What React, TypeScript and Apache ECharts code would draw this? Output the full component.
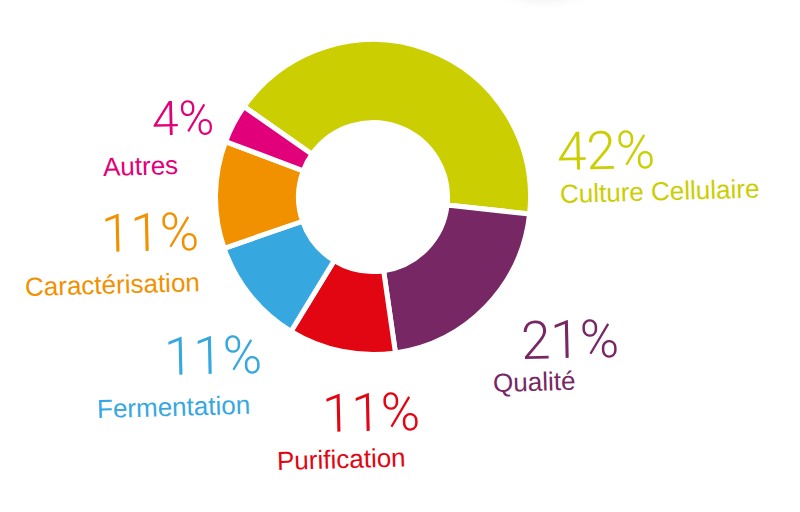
import React from 'react';
import * as echarts from 'echarts';

const categories = [
  'Culture Cellulaire',
  'Qualité',
  'Purification',
  'Fermentation',
  'Caractérisation',
  'Autres',
];
const shares = [42, 21, 11, 11, 11, 4];
const sliceColors = ['#cbce00', '#772864', '#e20613', '#37a8df', '#f29100', '#e2007a'];

// label placement: [left x of percent, centre y of percent, left x of name, centre y of name, percent size]
const labelSpots: [number, number, number, number, number][] = [
  [557, 152, 560, 194, 53],
  [521, 341, 493, 383, 53],
  [322, 414, 277, 461, 53],
  [164, 357, 97, 409, 53],
  [101, 234, 25, 287, 53],
  [152, 119, 103, 167, 48],
];

const FONT = '"Liberation Sans", Arial, sans-serif';
const THIN = 'Roboto, "Liberation Sans", sans-serif';

const buildLabels = (): any[] =>
  categories.flatMap((name, i) => {
    const [px, py, nx, ny, size] = labelSpots[i];
    const color = sliceColors[i];
    const tilt = (1.6 * Math.PI) / 180;
    return [
      {
        type: 'text',
        x: px,
        y: py,
        rotation: tilt * 0.8,
        style: {
          text: `${shares[i]}%`,
          fill: color,
          font: `300 ${size}px ${THIN}`,
          align: 'left',
          verticalAlign: 'middle',
        },
      },
      {
        type: 'text',
        x: nx,
        y: ny,
        rotation: tilt,
        style: {
          text: name,
          fill: color,
          font: `26px ${FONT}`,
          align: 'left',
          verticalAlign: 'middle',
        },
      },
    ];
  });

export default function App() {
  const ref = React.useRef<HTMLDivElement>(null);

  React.useEffect(() => {
    if (!ref.current) return;
    const chart = echarts.init(ref.current, undefined, { renderer: 'svg' });

    chart.setOption({
      animation: false,
      backgroundColor: '#ffffff',
      color: sliceColors,
      graphic: [
        {
          type: 'ellipse',
          shape: { cx: 545, cy: -4, rx: 52, ry: 15 },
          style: {
            fill: new echarts.graphic.RadialGradient(0.5, 0.5, 0.5, [
              { offset: 0, color: 'rgba(210,210,210,0.45)' },
              { offset: 1, color: 'rgba(255,255,255,0)' },
            ]),
          },
          z: -1,
        },
        ...buildLabels(),
      ],
      series: [
        {
          type: 'pie',
          center: [373, 197],
          radius: [74.5, 157.5],
          startAngle: 145,
          clockwise: true,
          silent: true,
          label: { show: false },
          labelLine: { show: false },
          itemStyle: { borderColor: '#ffffff', borderWidth: 5 },
          data: categories.map((name, i) => ({ name, value: shares[i] })),
        },
      ],
    });

    return () => chart.dispose();
  }, []);

  return (
    <div
      ref={ref}
      style={{ position: 'absolute', left: 0, top: 0, width: 800, height: 512 }}
    />
  );
}
